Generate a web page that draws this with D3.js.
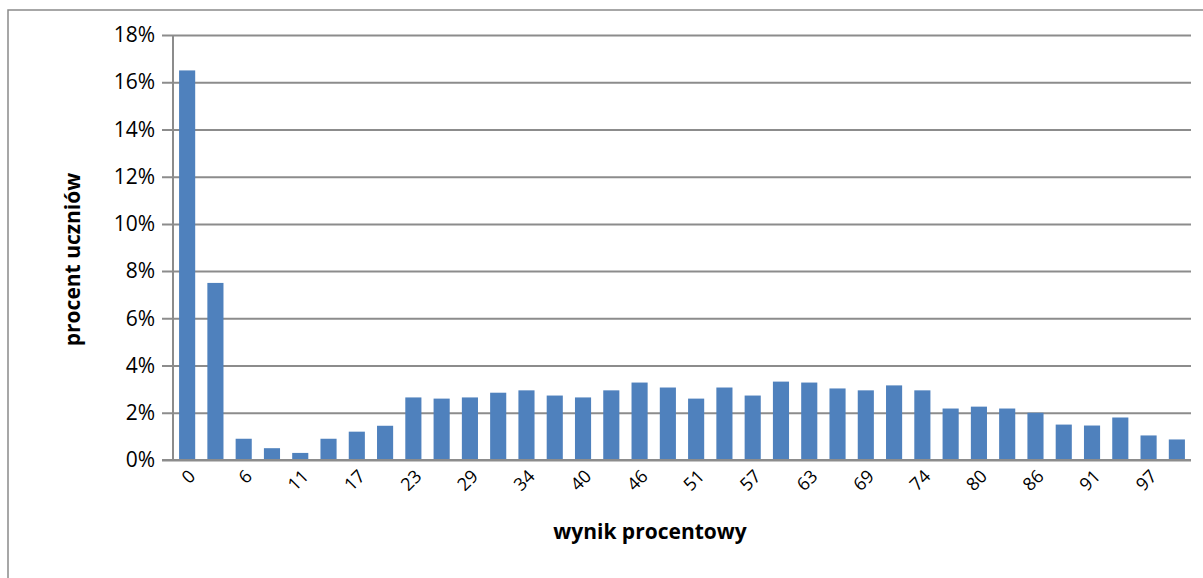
<!DOCTYPE html>
<html>
<head>
<meta charset="utf-8">
<script src="https://cdn.jsdelivr.net/npm/d3@7"></script>
<style>
  body { margin: 0; background: #fff; }
  svg { display: block; }
</style>
</head>
<body>
<script>
// wynik procentowy (0..35 pkt -> %)
const scores = [0, 3, 6, 9, 11, 14, 17, 20, 23, 26, 29, 31, 34, 37, 40, 43, 46, 49,
                51, 54, 57, 60, 63, 66, 69, 71, 74, 77, 80, 83, 86, 89, 91, 94, 97, 100];
// procent uczniów
const shares = [16.5, 7.5, 0.9, 0.5, 0.3, 0.9, 1.2, 1.45, 2.65, 2.6, 2.65, 2.85, 2.95, 2.73,
                2.65, 2.95, 3.28, 3.07, 2.6, 3.07, 2.73, 3.32, 3.28, 3.03, 2.95, 3.16, 2.95,
                2.18, 2.26, 2.18, 2.0, 1.5, 1.46, 1.8, 1.04, 0.87];
const yTicks = [0, 2, 4, 6, 8, 10, 12, 14, 16, 18];

const width = 1203, height = 578;
const margin = {left: 173, right: 12, top: 35, bottom: 118};

const svg = d3.select("body").append("svg")
    .attr("width", width)
    .attr("height", height);

// ramka wykresu
svg.append("rect")
    .attr("x", 8).attr("y", 10)
    .attr("width", width + 20).attr("height", height + 20)
    .attr("fill", "none")
    .attr("stroke", "#8a8a8a")
    .attr("stroke-width", 1.5);

const x = d3.scaleBand()
    .domain(scores.map(String))
    .range([margin.left, width - margin.right])
    .paddingInner(0.43)
    .paddingOuter(0.215);

const y = d3.scaleLinear()
    .domain([0, 18])
    .range([height - margin.bottom, margin.top]);

// siatka + oś Y
const yAxis = svg.append("g")
    .attr("transform", `translate(${margin.left},0)`)
    .call(d3.axisLeft(y)
        .tickValues(yTicks)
        .tickSize(-(width - margin.right - margin.left))
        .tickPadding(18)
        .tickFormat(d => d + "%"));
yAxis.select(".domain").remove();
yAxis.selectAll(".tick line")
    .attr("x1", -11)
    .attr("stroke", "#8c8c8c")
    .attr("stroke-width", 2);
yAxis.selectAll(".tick text")
    .style("font", "21px 'Open Sans', sans-serif")
    .attr("fill", "#000");

svg.append("line")
    .attr("x1", margin.left).attr("x2", margin.left)
    .attr("y1", y(18)).attr("y2", y(0))
    .attr("stroke", "#8c8c8c")
    .attr("stroke-width", 2);

// słupki
svg.selectAll(".bar")
    .data(shares)
    .enter().append("rect")
    .attr("class", "bar")
    .attr("x", (d, i) => x(String(scores[i])))
    .attr("width", x.bandwidth())
    .attr("y", d => y(d))
    .attr("height", d => y(0) - y(d))
    .attr("fill", "#4f81bd");

// oś X
svg.append("line")
    .attr("x1", margin.left - 11).attr("x2", width - margin.right)
    .attr("y1", y(0)).attr("y2", y(0))
    .attr("stroke", "#8c8c8c")
    .attr("stroke-width", 2);

svg.selectAll(".xlab")
    .data(scores.filter((d, i) => i % 2 === 0 && i < 35))
    .enter().append("text")
    .attr("class", "xlab")
    .attr("transform", d => `translate(${x(String(d)) + x.bandwidth() / 2 + 5},${y(0) + 13}) rotate(-45)`)
    .attr("text-anchor", "end")
    .attr("dy", "0.35em")
    .style("font", "18px 'Open Sans', sans-serif")
    .attr("fill", "#000")
    .text(d => d);

// tytuły osi
svg.append("text")
    .attr("transform", `translate(73,${(y(0) + y(18)) / 2 + 12}) rotate(-90)`)
    .attr("text-anchor", "middle")
    .attr("dy", "0.35em")
    .style("font", "bold 21px 'Open Sans', sans-serif")
    .attr("fill", "#000")
    .text("procent uczniów");

svg.append("text")
    .attr("x", 650)
    .attr("y", 539)
    .attr("text-anchor", "middle")
    .style("font", "bold 21px 'Open Sans', sans-serif")
    .attr("fill", "#000")
    .text("wynik procentowy");
</script>
</body>
</html>
